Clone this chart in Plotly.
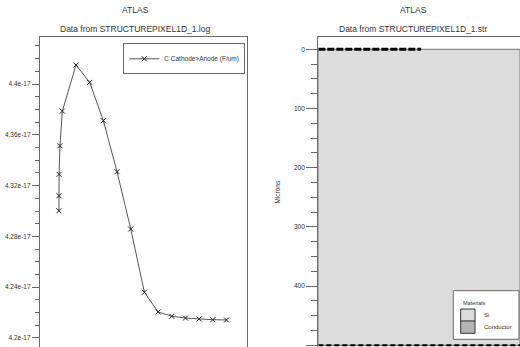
import plotly.graph_objects as go

# ---- data: left chart (capacitance vs bias) ----
bias = [0, 0.02, 0.05, 0.3, 1, 5, 9, 13, 17, 21, 25, 29, 33, 37, 41, 45, 49]
cap_e17 = [4.3002, 4.3120, 4.3289, 4.3514, 4.3787, 4.4150, 4.4013, 4.3711,
           4.3309, 4.2858, 4.2360, 4.2205, 4.2171, 4.2157, 4.2150, 4.2144, 4.2142]
cap = [v * 1e-17 for v in cap_e17]
cap_ticks = [4.2e-17, 4.24e-17, 4.28e-17, 4.32e-17, 4.36e-17, 4.4e-17]
cap_ticktext = ["4.2e-17", "4.24e-17", "4.28e-17", "4.32e-17", "4.36e-17", "4.4e-17"]

# ---- data: right chart (structure) ----
si_x = [0, 100, 100, 0, 0]
si_y = [0, 0, 500, 500, 0]
top_elec_x = [0, 51]
top_elec_y = [0, 0]
bot_elec_x = [0, 100]
bot_elec_y = [500, 500]
depth_ticks = [0, 100, 200, 300, 400, 500]
materials = ["Si", "Conductor"]
material_colors = ["#dcdcdc", "#b4b4b4"]

FONT = "Liberation Sans, Arial, sans-serif"
AX = "#6a6a6a"
TXT = "#333333"
W, H = 520, 347

def px(x):
    return x / W

def py(y):
    return 1 - y / H

fig = go.Figure()

fig.add_trace(go.Scatter(
    x=bias, y=cap, mode="lines+markers", name="C Cathode>Anode (F/um)",
    line=dict(color="#555555", width=1),
    marker=dict(symbol="x-thin", size=5, line=dict(color="#222222", width=1)),
    xaxis="x", yaxis="y"))

fig.add_trace(go.Scatter(
    x=si_x, y=si_y, mode="lines", fill="toself", fillcolor=material_colors[0],
    line=dict(color="#8a8a8a", width=1.2), showlegend=False, hoverinfo="skip",
    xaxis="x2", yaxis="y2"))
fig.add_trace(go.Scatter(
    x=top_elec_x, y=top_elec_y, mode="lines",
    line=dict(color="#000000", width=3, dash="7px,2px"), showlegend=False,
    xaxis="x2", yaxis="y2"))
fig.add_trace(go.Scatter(
    x=bot_elec_x, y=bot_elec_y, mode="lines",
    line=dict(color="#000000", width=2, dash="5px,3px"), showlegend=False,
    xaxis="x2", yaxis="y2"))

top = py(37.3)

fig.update_layout(
    width=W, height=H, margin=dict(l=0, r=0, t=0, b=0),
    paper_bgcolor="white", plot_bgcolor="white",
    font=dict(family=FONT, size=7, color=TXT),
    xaxis=dict(domain=[px(40), px(246.7)], range=[-5.53, 54.9],
               showticklabels=False, ticks="", showgrid=False, zeroline=False,
               showline=True, mirror=True, linecolor=AX, linewidth=1.3),
    yaxis=dict(domain=[0, top], range=[4.1929e-17, 4.4368e-17],
               tickmode="array", tickvals=cap_ticks, ticktext=cap_ticktext,
               ticks="outside", ticklen=7, tickcolor=AX, tickwidth=1,
               tickfont=dict(size=6.5, color=TXT),
               minor=dict(tickmode="linear", tick0=4.2e-17, dtick=1e-19,
                          ticks="outside", ticklen=4, tickcolor=AX, showgrid=False),
               showgrid=False, zeroline=False,
               showline=True, mirror=True, linecolor=AX, linewidth=1.3),
    xaxis2=dict(domain=[px(318.3), 1.0], range=[0, 100],
                showticklabels=False, ticks="", showgrid=False, zeroline=False,
                showline=True, mirror=True, linecolor=AX, linewidth=1.3),
    yaxis2=dict(domain=[0, top], range=[502.9, -20.3], anchor="x2",
                tickmode="array", tickvals=depth_ticks,
                ticks="outside", ticklen=11, tickcolor=AX, tickwidth=1,
                tickfont=dict(size=6.5, color=TXT),
                minor=dict(tickmode="linear", tick0=0, dtick=25,
                           ticks="outside", ticklen=6, tickcolor=AX, showgrid=False),
                showgrid=False, zeroline=False,
                showline=True, mirror=True, linecolor=AX, linewidth=1.3,
                title=dict(text="Microns", font=dict(size=6.5, color=TXT), standoff=12)),
    legend=dict(x=px(123.3), y=py(43.3), xanchor="left", yanchor="top",
                bgcolor="white", bordercolor=AX, borderwidth=1,
                font=dict(size=6.5, color=TXT)),
    showlegend=True,
)

for xc, sub in [(px(135), "Data from STRUCTUREPIXEL1D_1.log"),
                (px(413), "Data from STRUCTUREPIXEL1D_1.str")]:
    fig.add_annotation(x=xc, y=py(9.5), xref="paper", yref="paper",
                       text="ATLAS", showarrow=False, font=dict(size=8.5, color=TXT),
                       xanchor="center", yanchor="middle")
    fig.add_annotation(x=xc, y=py(29), xref="paper", yref="paper",
                       text=sub, showarrow=False, font=dict(size=8.5, color=TXT),
                       xanchor="center", yanchor="middle")

# Materials key box
fig.add_shape(type="rect", xref="paper", yref="paper",
              x0=px(453.3), x1=px(519), y0=py(339.3), y1=py(290.7),
              fillcolor="white", line=dict(color=AX, width=1))
fig.add_annotation(x=px(460.7), y=py(303.3), xref="paper", yref="paper",
                   text="Materials", showarrow=False, font=dict(size=5.5, color=TXT),
                   xanchor="left", yanchor="middle")
sq_tops = [309, 321]
for name, col, t in zip(materials, material_colors, sq_tops):
    fig.add_shape(type="rect", xref="paper", yref="paper",
                  x0=px(460.7), x1=px(475), y0=py(t + 12.3), y1=py(t),
                  fillcolor=col, line=dict(color="#333333", width=1))
    fig.add_annotation(x=px(481.7), y=py(t + 6.3), xref="paper", yref="paper",
                       text=name, showarrow=False, font=dict(size=6, color=TXT),
                       xanchor="left", yanchor="middle")

fig.write_html("out.html", config={"displayModeBar": False},
               post_script="document.body.style.margin='0';")
